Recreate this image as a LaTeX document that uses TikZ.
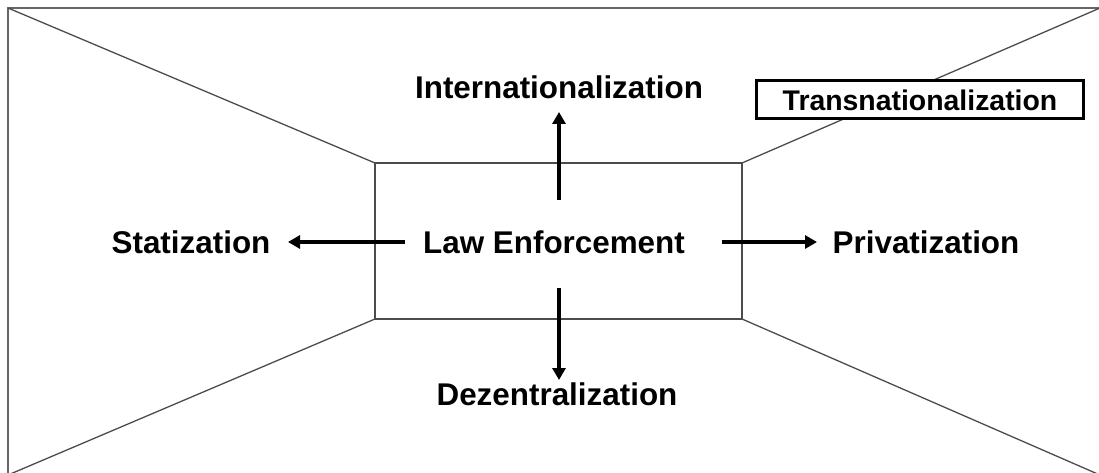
\documentclass[tikz,border=0pt]{standalone}
\usepackage{fontspec}
\setmainfont{Liberation Sans}
\usetikzlibrary{arrows.meta}
\begin{document}
\begin{tikzpicture}[x=1pt,y=-1pt,
  frame/.style={draw=black!60, line width=1.7pt},
  persp/.style={draw=black!70, line width=1.3pt},
  lbl/.style={font=\fontsize{31.4}{36}\selectfont\bfseries, inner sep=0pt},
  arr/.style={line width=3.8pt, -{Triangle[length=12pt,width=13pt]}},
  boxed/.style={draw=black, line width=3pt, fill=white, font=\fontsize{28.4}{32}\selectfont\bfseries, minimum width=327pt, minimum height=38pt, inner sep=0pt}]
\useasboundingbox (0,0) rectangle (1099,473);
% outer frame corners
\coordinate (OTL) at (8,8);
\coordinate (OTR) at (1100,8);
\coordinate (OBL) at (8,475);
\coordinate (OBR) at (1100,475);
% inner rectangle corners
\coordinate (ITL) at (375,163);
\coordinate (ITR) at (742,163);
\coordinate (IBL) at (375,319);
\coordinate (IBR) at (742,319);
\begin{scope}
\clip (0,0) rectangle (1099,473);
\draw[frame] (OBL) -- (OTL) -- (OTR) -- (OBR) -- cycle;
\draw[persp] (ITL) -- (ITR) -- (IBR) -- (IBL) -- cycle;
\draw[persp] (OTL) -- (ITL);
\draw[persp] (OTR) -- (ITR);
\draw[persp] (OBL) -- (IBL);
\draw[persp] (OBR) -- (IBR);
\end{scope}
% labels
\node[lbl] (law) at (554,242) {Law Enforcement};
\node[lbl] (stat) at (191,242) {Statization};
\node[lbl] (priv) at (926,242) {Privatization};
\node[lbl] (intl) at (559,87) {Internationalization};
\node[lbl] (dez) at (557,394) {Dezentralization};
\node[boxed] (trans) at (920,100) {Transnationalization};
% arrow endpoints
\coordinate (aL0) at (405,242);
\coordinate (aL1) at (288,242);
\coordinate (aR0) at (722,242);
\coordinate (aR1) at (817,242);
\coordinate (aU0) at (559,200);
\coordinate (aU1) at (559,112);
\coordinate (aD0) at (559,288);
\coordinate (aD1) at (559,380);
\draw[arr] (aL0) -- (aL1);
\draw[arr] (aR0) -- (aR1);
\draw[arr] (aU0) -- (aU1);
\draw[arr] (aD0) -- (aD1);
\end{tikzpicture}
\end{document}
